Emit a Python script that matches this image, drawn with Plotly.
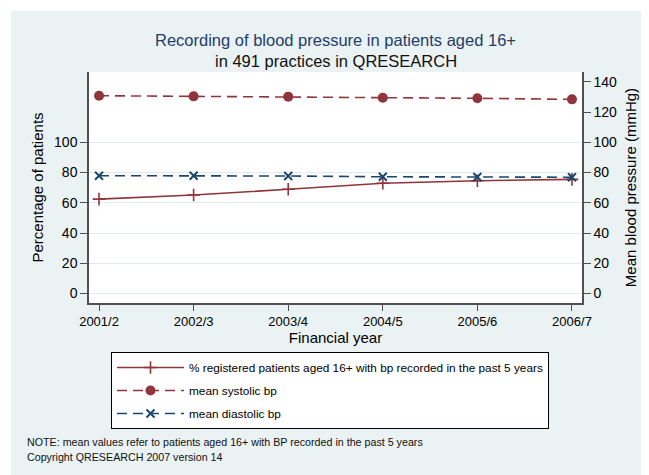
import plotly.graph_objects as go

years = ["2001/2", "2002/3", "2003/4", "2004/5", "2005/6", "2006/7"]
pct_recorded = [62.4, 65.1, 68.9, 72.9, 74.6, 75.5]
systolic = [130.8, 130.4, 130.2, 129.5, 129.1, 128.4]
diastolic = [77.9, 77.9, 77.7, 77.2, 77.0, 76.9]
left_ticks = [0, 20, 40, 60, 80, 100]
right_ticks = [0, 20, 40, 60, 80, 100, 120, 140]

MAROON = "#90353b"
NAVY = "#1a476f"
FONT = "Arial, Liberation Sans, sans-serif"

# page has an 8px body margin; work in screen pixels and convert
OFF = 8
W, H = 641, 467
L, T = 89 - OFF, 72 - OFF
R = W - (582 - OFF)
B = H - (303 - OFF)
PW, PH = W - L - R, H - T - B

def px(x):
    return (x - OFF - L) / PW

def py(y):
    return (H - B - (y - OFF)) / PH

xi = list(range(len(years)))

fig = go.Figure()
fig.add_trace(go.Scatter(
    x=xi, y=pct_recorded, mode="lines+markers",
    name="% registered patients aged 16+ with bp recorded in the past 5 years",
    line=dict(color=MAROON, width=1.6),
    marker=dict(symbol="cross-thin", size=9, line=dict(color=MAROON, width=1.6)),
    legendgroup="a",
))
fig.add_trace(go.Scatter(
    x=xi, y=systolic, mode="lines+markers", yaxis="y2",
    name="mean systolic bp",
    line=dict(color=MAROON, width=1.6, dash="10px,6px"),
    marker=dict(symbol="circle", size=10, color=MAROON),
    legendgroup="b",
))
fig.add_trace(go.Scatter(
    x=xi, y=diastolic, mode="lines+markers", yaxis="y2",
    name="mean diastolic bp",
    line=dict(color=NAVY, width=1.6, dash="10px,6px"),
    marker=dict(symbol="x-thin", size=8, line=dict(color=NAVY, width=2)),
    legendgroup="c",
))

yrange = [-6.3, 146.5]
fig.update_layout(
    width=W, height=H,
    margin=dict(l=L, r=R, t=T, b=B, pad=0),
    paper_bgcolor="#eaf2f3",
    plot_bgcolor="white",
    font=dict(family=FONT, color="black", size=13),
    xaxis=dict(
        range=[-0.106, 5.106], tickmode="array", tickvals=xi, ticktext=years,
        showgrid=False, zeroline=False, showline=True, linecolor="#505050", linewidth=1.5,
        ticks="outside", ticklen=6, tickcolor="#505050", tickwidth=1.2,
        tickfont=dict(size=13),
        title=dict(text="Financial year", font=dict(size=15), standoff=0),
    ),
    yaxis=dict(
        range=yrange, tickmode="array", tickvals=left_ticks,
        showgrid=True, gridcolor="#e2eaef", gridwidth=1, zeroline=False,
        showline=True, linecolor="#505050", linewidth=1.5,
        ticks="outside", ticklen=7, tickcolor="#505050", tickwidth=1.2,
        tickfont=dict(size=14),
        title=dict(text="Percentage of patients", font=dict(size=15), standoff=7),
    ),
    yaxis2=dict(
        range=yrange, tickmode="array", tickvals=right_ticks, overlaying="y", side="right",
        showgrid=False, zeroline=False, showline=True, linecolor="#505050", linewidth=1.5,
        ticks="outside", ticklen=7, tickcolor="#505050", tickwidth=1.2,
        tickfont=dict(size=14),
        title=dict(text="Mean blood pressure (mmHg)", font=dict(size=15), standoff=9),
    ),
    legend=dict(
        x=px(111), y=py(352), xanchor="left", yanchor="top",
        bgcolor="white", bordercolor="black", borderwidth=1,
        font=dict(size=11.8), tracegroupgap=4, itemwidth=67,
        traceorder="grouped",
    ),
    showlegend=True,
)

fig.add_annotation(text="Recording of blood pressure in patients aged 16+", x=0.5, y=py(40),
                   xref="paper", yref="paper", showarrow=False, xanchor="center", yanchor="middle",
                   font=dict(size=16.5, color="#243d6b"))
fig.add_annotation(text="in 491 practices in QRESEARCH", x=0.5, y=py(61),
                   xref="paper", yref="paper", showarrow=False, xanchor="center", yanchor="middle",
                   font=dict(size=16.5, color="#111111"))
fig.add_annotation(text="NOTE: mean values refer to patients aged 16+ with BP recorded in the past 5 years",
                   x=px(25), y=py(442), xref="paper", yref="paper", showarrow=False,
                   xanchor="left", yanchor="middle", font=dict(size=10.7, color="#111111"))
fig.add_annotation(text="Copyright QRESEARCH 2007 version 14",
                   x=px(25), y=py(457), xref="paper", yref="paper", showarrow=False,
                   xanchor="left", yanchor="middle", font=dict(size=10.7, color="#111111"))

# thin white outer border strips (top and left), rest of page margin is the browser's
fig.add_shape(type="rect", xref="paper", yref="paper", x0=px(OFF), x1=px(OFF + W), y0=py(OFF), y1=py(11),
              fillcolor="white", line=dict(width=0), layer="below")
fig.add_shape(type="rect", xref="paper", yref="paper", x0=px(OFF), x1=px(11), y0=py(OFF), y1=py(OFF + H),
              fillcolor="white", line=dict(width=0), layer="below")

fig.write_html("out.html")
